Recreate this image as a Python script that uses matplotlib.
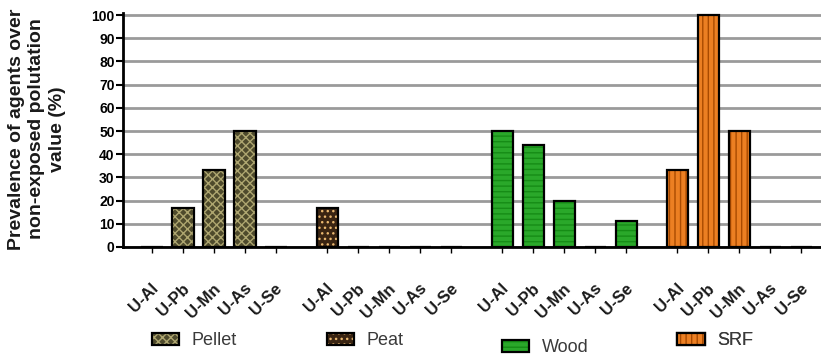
import matplotlib
matplotlib.use("Agg")
import matplotlib.pyplot as plt
from matplotlib.patches import Patch
from matplotlib.transforms import ScaledTranslation

plt.rcParams['font.family'] = ['Liberation Sans', 'DejaVu Sans']
plt.rcParams['hatch.linewidth'] = 1.0

# Data
elements = ["U-Al", "U-Pb", "U-Mn", "U-As", "U-Se"]
fuels = ["Pellet", "Peat", "Wood", "SRF"]
pellet = [0, 17, 33, 50, 0]
peat = [17, 0, 0, 0, 0]
wood = [50, 44, 20, 0, 11]
srf = [33, 100, 50, 0, 0]
yticks = list(range(0, 101, 10))
ylabel = "Prevalence of agents over\nnon-exposed polutation\nvalue (%)"

series = {"Pellet": pellet, "Peat": peat, "Wood": wood, "SRF": srf}

# Fill / hatch styling for each fuel
styles = {
    "Pellet": dict(face="#4e4a2c", hcol="#aea670", hatch="xxxx"),
    "Peat": dict(face="#3a2412", hcol="#eab870", hatch="..."),
    "Wood": dict(face="#2aa82a", hcol="#168c16", hatch="---"),
    "SRF": dict(face="#ec7f22", hcol="#a94a00", hatch="|||"),
}

group_stride = 5.65
bar_w = 0.68

fig = plt.figure(figsize=(8.21, 3.56), dpi=100)
ax = fig.add_axes([123 / 821, 109 / 356, 1 - 123 / 821, 234.3 / 356])

all_pos = []
for g, fuel in enumerate(fuels):
    pos = [g * group_stride + i for i in range(len(elements))]
    all_pos += pos
    st = styles[fuel]
    vals = series[fuel]
    ax.bar(pos, vals, width=bar_w, color=st["face"], edgecolor=st["hcol"],
           hatch=st["hatch"], linewidth=0, zorder=2)
    ax.bar(pos, vals, width=bar_w, fill=False, edgecolor="black",
           linewidth=1.6, zorder=3)

ax.set_ylim(0, 101)
ax.set_xlim(-0.935, -0.935 + 698 / 31)
ax.set_yticks(yticks)
ax.set_yticklabels([str(t) for t in yticks], fontsize=10, fontweight="bold")
ax.set_xticks(all_pos)
ax.set_xticklabels([])
ax.tick_params(axis="y", length=5, width=1.5, pad=1)
ax.tick_params(axis="x", length=4, width=1.0)

ax.yaxis.grid(True, color="#9a9a9a", linewidth=2)
ax.set_axisbelow(True)
for s in ("top", "right"):
    ax.spines[s].set_visible(False)
for s in ("left", "bottom"):
    ax.spines[s].set_linewidth(2)
    ax.spines[s].set_zorder(4)

# Rotated element labels below each bar slot
lab_tr = ax.get_xaxis_transform() + ScaledTranslation(0.04, -0.39, fig.dpi_scale_trans)
for g in range(len(fuels)):
    for i, el in enumerate(elements):
        ax.text(g * group_stride + i, 0, el, transform=lab_tr, rotation=45,
                rotation_mode="anchor", ha="right", va="center",
                fontsize=12, fontweight="bold", color="#1a1a1a")

fig.text(37 / 821, 1 - 129 / 356, ylabel, rotation=90, ha="center", va="center",
         multialignment="center", fontsize=14, fontweight="bold",
         color="#1a1a1a", linespacing=1.25)

# One legend entry under each group
leg_y = {"Pellet": -0.401, "Peat": -0.401, "Wood": -0.431, "SRF": -0.401}
for g, fuel in enumerate(fuels):
    st = styles[fuel]
    h_fill = Patch(facecolor=st["face"], edgecolor=st["hcol"], hatch=st["hatch"], linewidth=0)
    h_edge = Patch(fill=False, edgecolor="black", linewidth=1.6)
    leg = ax.legend(handles=[(h_fill, h_edge)], labels=[fuel], loc="center left",
                    bbox_to_anchor=(g * group_stride, leg_y[fuel]),
                    bbox_transform=ax.get_xaxis_transform(), frameon=False,
                    borderpad=0, borderaxespad=0, handlelength=1.5,
                    handleheight=0.7, handletextpad=0.7, fontsize=13,
                    labelcolor="#3a3a3a")
    ax.add_artist(leg)

fig.savefig("out.png", dpi=100)
